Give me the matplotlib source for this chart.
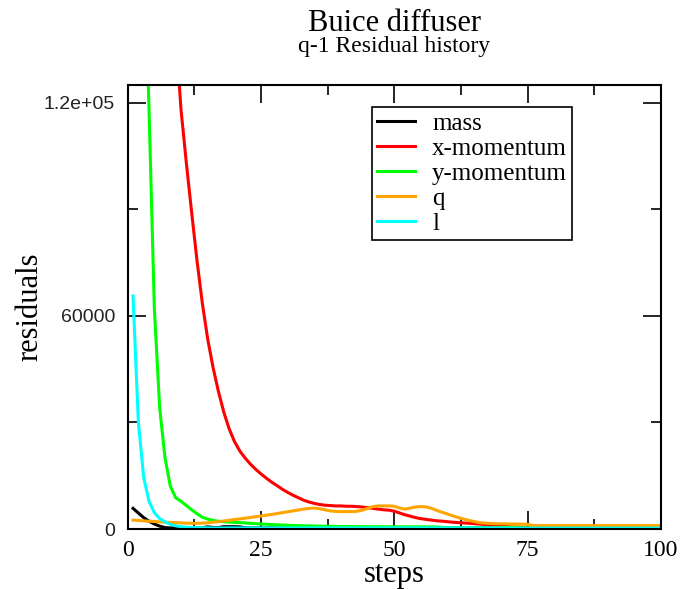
import numpy as np
import matplotlib
matplotlib.use('Agg')
import matplotlib.pyplot as plt
from matplotlib.ticker import MultipleLocator, FixedLocator

# Data
steps = list(range(1, 101))

mass = [5800, 4500, 3200, 2200, 1400, 800, 400, 300, 300, 300,
        300, 300, 300, 350, 600, 450, 400, 650, 650, 650,
        600, 350, 300, 300, 300, 300, 300, 300, 300, 300,
        300, 300, 300, 300, 300, 300, 300, 300, 300, 300,
        300, 300, 300, 300, 300, 300, 300, 300, 300, 300,
        300, 300, 300, 300, 300, 300, 300, 300, 300, 300,
        300, 300, 300, 300, 300, 300, 300, 300, 300, 300,
        250, 250, 250, 250, 250, 250, 250, 250, 250, 250,
        250, 250, 250, 250, 250, 250, 250, 250, 250, 250,
        250, 250, 250, 250, 250, 250, 250, 250, 250, 250]

x_momentum = [900000, 800000, 700000, 560000, 420000, 310000, 230000, 175000, 140000, 118000,
              103000, 89000, 75500, 63500, 53500, 45500, 38800, 33000, 28300, 24700,
              22000, 20000, 18300, 16800, 15500, 14300, 13200, 12200, 11200, 10300,
              9500, 8800, 8100, 7600, 7200, 6900, 6700, 6600, 6500, 6500,
              6400, 6400, 6300, 6200, 6000, 5800, 5600, 5400, 5300, 5000,
              4500, 4000, 3600, 3200, 2900, 2700, 2500, 2300, 2200, 2050,
              1900, 1800, 1700, 1600, 1500, 1400, 1250, 1150, 1050, 800,
              700, 600, 550, 450, 350, 300, 300, 300, 300, 300,
              300, 300, 300, 300, 300, 300, 300, 300, 300, 300,
              300, 300, 300, 300, 300, 300, 300, 300, 300, 300]

y_momentum = [350000, 250000, 170000, 118000, 62000, 34000, 20000, 12000, 8800, 7800,
              6600, 5400, 4300, 3300, 2800, 2400, 2200, 2050, 1950, 1850,
              1800, 1700, 1600, 1500, 1400, 1350, 1250, 1200, 1100, 1050,
              1000, 950, 900, 880, 850, 800, 780, 750, 720, 700,
              690, 680, 670, 660, 650, 650, 640, 640, 630, 630,
              620, 620, 610, 610, 600, 600, 600, 550, 450, 400,
              350, 350, 350, 350, 350, 350, 350, 350, 350, 350,
              450, 500, 350, 300, 300, 300, 300, 300, 300, 300,
              300, 300, 300, 300, 300, 300, 300, 300, 300, 300,
              300, 300, 300, 300, 300, 300, 300, 300, 300, 300]

q = [2500, 2400, 2300, 2200, 2100, 2000, 1900, 1850, 1800, 1700,
     1650, 1600, 1600, 1650, 1750, 1900, 2050, 2250, 2450, 2650,
     2850, 3050, 3250, 3450, 3650, 3900, 4100, 4350, 4600, 4850,
     5100, 5350, 5600, 5800, 5900, 5700, 5400, 5100, 4950, 4900,
     4900, 4900, 5000, 5300, 5800, 6300, 6500, 6500, 6500, 6400,
     5900, 5600, 5900, 6200, 6300, 6200, 5800, 5200, 4700, 4200,
     3700, 3200, 2800, 2400, 2100, 1800, 1650, 1550, 1500, 1450,
     1450, 1400, 1400, 1350, 1300, 1000, 950, 950, 950, 950,
     950, 950, 950, 950, 950, 950, 950, 950, 950, 950,
     950, 950, 950, 950, 950, 950, 950, 950, 950, 950]

l = [65600, 30000, 14500, 7800, 4600, 2900, 2000, 1300, 900, 650,
     500, 420, 380, 350, 330, 300, 300, 300, 300, 300,
     300, 300, 300, 300, 300, 300, 300, 300, 300, 300,
     300, 300, 300, 300, 300, 300, 300, 300, 300, 300,
     300, 300, 300, 300, 300, 300, 300, 300, 300, 300,
     300, 300, 300, 300, 300, 300, 300, 300, 300, 300,
     300, 300, 300, 300, 300, 300, 300, 300, 300, 300,
     250, 250, 250, 250, 250, 250, 250, 250, 250, 250,
     250, 250, 250, 250, 250, 250, 250, 250, 250, 250,
     250, 250, 250, 250, 250, 250, 250, 250, 250, 250]

series = [('mass', mass, 'black'),
          ('x-momentum', x_momentum, '#ff0000'),
          ('y-momentum', y_momentum, '#00ff00'),
          ('q', q, '#ffa500'),
          ('l', l, '#00ffff')]

yticks = [0, 60000, 120000]
yticklabels = ['0', '60000', '1.2e+05']
xticks = [0, 25, 50, 75, 100]

serif = 'Liberation Serif'
sans = 'Liberation Sans'

W, H = 682, 589
fig = plt.figure(figsize=(W / 100, H / 100), dpi=100)
ax = fig.add_axes([127.7 / W, (H - 529) / H, (661 - 127.7) / W, (529 - 85) / H])

for name, vals, col in series:
    ax.plot(steps, vals, color=col, lw=2.2, label=name)

ax.set_xlim(0, 100)
ax.set_ylim(0, 125000)
ax.set_xticks(xticks)
ax.xaxis.set_minor_locator(MultipleLocator(12.5))
ax.set_yticks(yticks)
ax.set_yticklabels(yticklabels)
ax.yaxis.set_minor_locator(FixedLocator([30000, 90000]))

ax.tick_params(which='both', direction='in', top=True, right=True, width=1.2, color='black')
ax.tick_params(which='major', length=13)
ax.tick_params(which='minor', length=7)
ax.tick_params(axis='x', pad=8, labelsize=17)
ax.tick_params(axis='y', pad=9, labelsize=14)
for t in ax.get_xticklabels():
    t.set_family(serif)
for t in ax.get_yticklabels():
    t.set_family(sans)
    t.set_color('#222222')
for s in ax.spines.values():
    s.set_linewidth(1.5)

fig.text(394.5 / W, (H - 31) / H, 'Buice diffuser', ha='center', va='baseline',
         family=serif, fontsize=22)
fig.text(394.5 / W, (H - 52) / H, 'q-1 Residual history', ha='center', va='baseline',
         family=serif, fontsize=17)
fig.text(394.5 / W, (H - 582) / H, 'steps', ha='center', va='baseline',
         family=serif, fontsize=22)
fig.text(30 / W, (H - 307) / H, 'residuals', ha='center', va='center', rotation=90,
         family=serif, fontsize=22)

leg = ax.legend(loc='upper left', bbox_to_anchor=(372 / W, (H - 107) / H),
                bbox_transform=fig.transFigure, borderaxespad=0, fancybox=False,
                framealpha=1, edgecolor='black', prop={'family': serif, 'size': 18},
                handlelength=1.5, handletextpad=0.7, labelspacing=0.1, borderpad=0.2)
leg.get_frame().set_linewidth(1.2)
for ln in leg.get_lines():
    ln.set_linewidth(2.2)

fig.savefig('out.png', dpi=100)
